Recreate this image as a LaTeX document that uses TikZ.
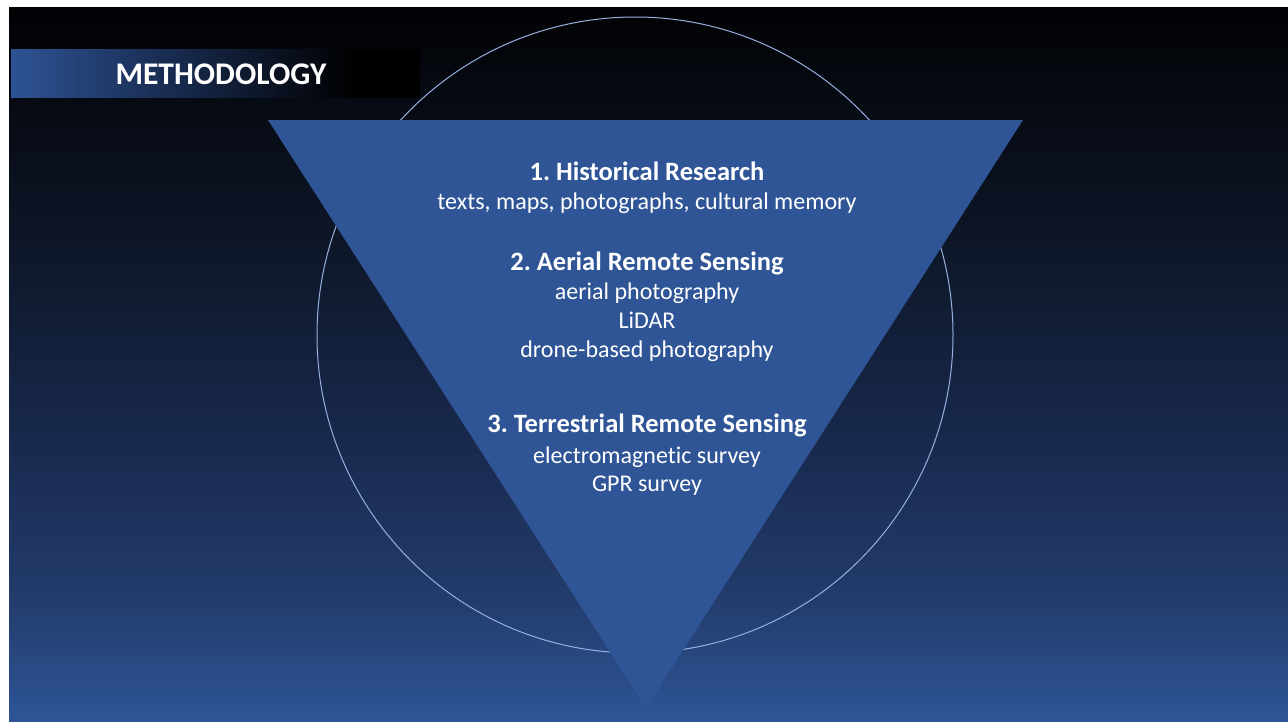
\documentclass[tikz,border=0pt]{standalone}
\usepackage{fontspec}
\setmainfont{Carlito}[Ligatures=NoCommon]
\usepackage{tikz}
\frenchspacing
\definecolor{tri_blue}{RGB}{47,85,151}
\definecolor{ring_blue}{RGB}{150,176,224}
\definecolor{bg_0}{RGB}{1,2,4}
\definecolor{bg_1}{RGB}{14,23,41}
\definecolor{bg_2}{RGB}{25,42,79}
\definecolor{bg_3}{RGB}{35,60,108}
\definecolor{bg_4}{RGB}{46,85,150}
\definecolor{bar_blue}{RGB}{46,83,148}
\definecolor{bar_mid}{RGB}{25,44,82}
\pgfdeclareverticalshading{slidebg}{100bp}{color(0bp)=(bg_4); color(25bp)=(bg_4);
  color(33.5bp)=(bg_3); color(44bp)=(bg_2); color(58bp)=(bg_1); color(75bp)=(bg_0); color(100bp)=(bg_0)}
\pgfdeclarehorizontalshading{barbg}{100bp}{color(0bp)=(bar_blue); color(25bp)=(bar_blue);
  color(44bp)=(bar_mid); color(67bp)=(black); color(100bp)=(black)}

\begin{document}
\begin{tikzpicture}[x=1pt,y=-1pt]
    \tikzstyle{head}=[text=white, font=\fontsize{26.5}{32}\selectfont\bfseries, anchor=base, inner sep=0pt]
    \tikzstyle{item}=[text=white, font=\fontsize{24}{29}\selectfont, anchor=base, inner sep=0pt]
    \tikzstyle{title}=[text=white, font=\fontsize{31.5}{36}\selectfont\bfseries, anchor=base, inner sep=0pt]

    \useasboundingbox[fill=white] (0,0) rectangle (1288,721);
    % slide background
    \shade[shading=slidebg] (9,7) rectangle (1288,721);
    \shade[shading=barbg] (11,49) rectangle (420,97);
    \node[title] (ttl) at (221,84) {METHODOLOGY};

    % ring and funnel
    \draw[ring_blue, line width=1pt] (635,335) circle (318);
    \coordinate (tl) at (268,120);
    \coordinate (tr) at (1023,120);
    \coordinate (tip) at (646,708);
    \fill[tri_blue] (tl) -- (tr) -- (tip) -- cycle;

    \node[head] (h1) at (647,180) {1. Historical Research};
    \node[item] (i11) at (647,209) {texts, maps, photographs, cultural memory};
    \node[head] (h2) at (647,270) {2. Aerial Remote Sensing};
    \node[item] (i21) at (647,299) {aerial photography};
    \node[item] (i22) at (647,328) {LiDAR};
    \node[item] (i23) at (647,357) {drone-based photography};
    \node[head] (h3) at (647,432) {3. Terrestrial Remote Sensing};
    \node[item] (i31) at (647,463) {electromagnetic survey};
    \node[item] (i32) at (647,491) {GPR survey};
\end{tikzpicture}
\end{document}
